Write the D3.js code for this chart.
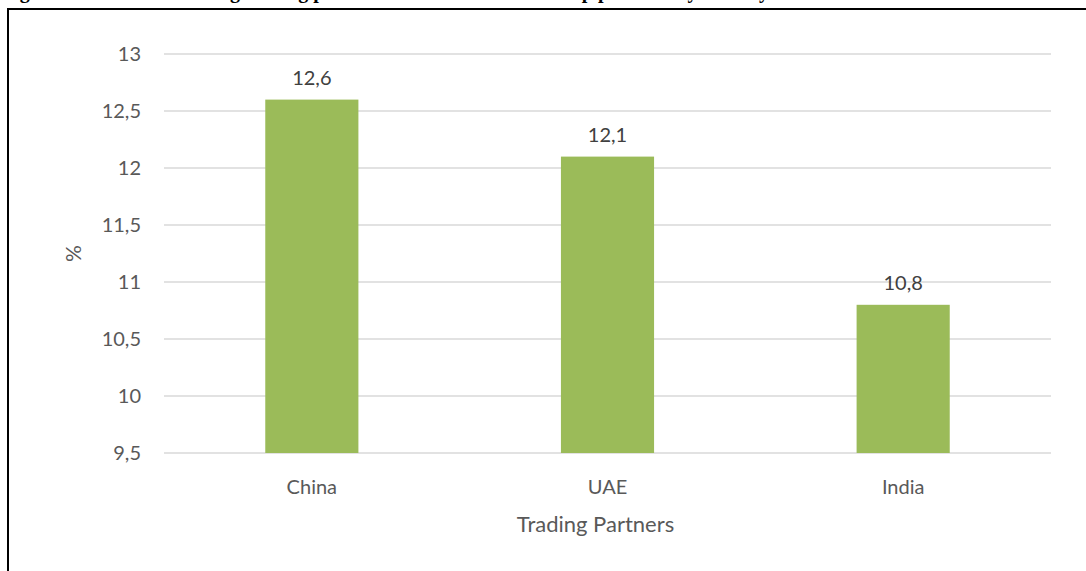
<!DOCTYPE html>
<html>
<head>
<meta charset="utf-8">
<script src="https://cdn.jsdelivr.net/npm/d3@7"></script>
<style>
  html, body { margin: 0; padding: 0; background: #fff; }
  svg { display: block; }
</style>
</head>
<body>
<svg id="chart" width="1086" height="571"></svg>
<script>
// Share of leading trading partners (%)
const partners = ["China", "UAE", "India"];
const shares = [12.6, 12.1, 10.8];
const yTicks = [9.5, 10, 10.5, 11, 11.5, 12, 12.5, 13];
const titleText = "Figure 4: Pakistan's leading trading partners and the share of the top partners by country";
const xTitle = "Trading Partners";
const yTitle = "%";

const svg = d3.select("#chart");
const W = 1086, H = 571;
const plot = { left: 164, right: 1051, top: 54, bottom: 453 };
const font = "Lato, 'Open Sans', sans-serif";
const textColor = "#595959";

// decimal comma formatting
const locale = d3.formatLocale({ decimal: ",", thousands: ".", grouping: [3], currency: ["", ""] });
const fmt = locale.format("~g");

// caption above the frame (its line sits mostly above the page top)
svg.append("text")
  .attr("x", 2).attr("y", -2.5)
  .attr("font-family", "'Liberation Serif', 'Times New Roman', serif")
  .attr("font-weight", "bold")
  .attr("font-size", 20)
  .attr("fill", "#000")
  .text(titleText);

// chart frame (runs past the right and bottom edges)
svg.append("path")
  .attr("d", `M8,${H + 5} L8,9 L${W + 5},9`)
  .attr("fill", "none")
  .attr("stroke", "#000")
  .attr("stroke-width", 2);

const x = d3.scaleBand().domain(partners).range([plot.left, plot.right]).paddingInner(0.685).paddingOuter(0.3425);
const y = d3.scaleLinear().domain([9.5, 13]).range([plot.bottom, plot.top]);

// gridlines
svg.append("g").selectAll("line").data(yTicks).join("line")
  .attr("x1", plot.left).attr("x2", plot.right)
  .attr("y1", d => y(d)).attr("y2", d => y(d))
  .attr("stroke", "#d9d9d9").attr("stroke-width", 1.3);

// y tick labels
svg.append("g").selectAll("text").data(yTicks).join("text")
  .attr("x", 141).attr("y", d => y(d))
  .attr("dy", "0.35em")
  .attr("text-anchor", "end")
  .attr("font-family", font).attr("font-size", 20)
  .attr("fill", textColor)
  .text(d => fmt(d));

// bars
const data = partners.map((p, i) => ({ p, v: shares[i] }));
svg.append("g").selectAll("rect").data(data).join("rect")
  .attr("x", d => x(d.p)).attr("width", x.bandwidth())
  .attr("y", d => y(d.v)).attr("height", d => y(9.5) - y(d.v))
  .attr("fill", "#9bbb59");

// value labels
svg.append("g").selectAll("text").data(data).join("text")
  .attr("x", d => x(d.p) + x.bandwidth() / 2)
  .attr("y", d => y(d.v) - 15)
  .attr("text-anchor", "middle")
  .attr("font-family", font).attr("font-size", 20)
  .attr("fill", "#404040")
  .text(d => fmt(d.v));

// category labels
svg.append("g").selectAll("text").data(partners).join("text")
  .attr("x", d => x(d) + x.bandwidth() / 2)
  .attr("y", 494)
  .attr("text-anchor", "middle")
  .attr("font-family", font).attr("font-size", 20)
  .attr("fill", textColor)
  .text(d => d);

// axis titles
svg.append("text")
  .attr("x", (plot.left + plot.right) / 2 - 12).attr("y", 532)
  .attr("text-anchor", "middle")
  .attr("font-family", font).attr("font-size", 22)
  .attr("fill", textColor)
  .text(xTitle);

svg.append("text")
  .attr("transform", `translate(81,${(plot.top + plot.bottom) / 2}) rotate(-90)`)
  .attr("text-anchor", "middle")
  .attr("font-family", font).attr("font-size", 21)
  .attr("fill", textColor)
  .text(yTitle);
</script>
</body>
</html>
